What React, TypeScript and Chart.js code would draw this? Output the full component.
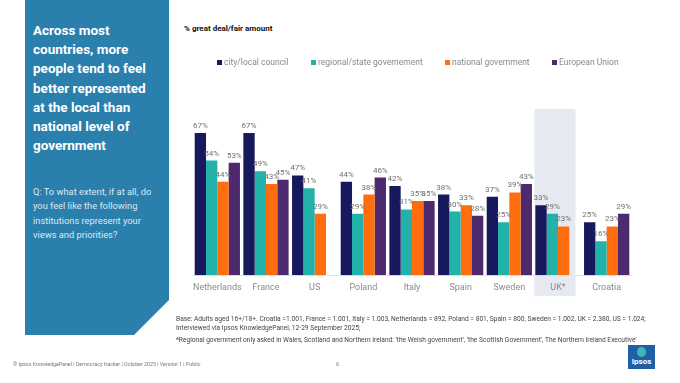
import React, { useEffect, useRef } from "react";
import { Chart, registerables } from "chart.js";

Chart.register(...registerables);

const categories = ["Netherlands", "France", "US", "Poland", "Italy", "Spain", "Sweden", "UK*", "Croatia"];
const cityLocal = [67, 67, 47, 44, 42, 38, 37, 33, 25];
const regional = [54, 49, 41, 29, 31, 30, 25, 29, 16];
const national = [44, 43, 29, 38, 35, 33, 39, 23, 23];
const europeanUnion = [53, 45, null, 46, 35, 28, 43, null, 29];
const seriesNames = ["city/local council", "regional/state governement", "national government", "European Union"];
const seriesColors = ["#16195b", "#22b2aa", "#ff6d0e", "#4d2a6d"];
const highlightIndex = 7;

const FONT = "Roboto, 'Noto Sans', sans-serif";

const highlightPlugin = {
  id: "highlight",
  beforeDraw(chart: any) {
    const { ctx, chartArea, scales } = chart;
    const c = scales.x.getPixelForValue(highlightIndex);
    ctx.save();
    ctx.fillStyle = "#e6e9ef";
    ctx.fillRect(c - 23.5, chartArea.top + 46, 41, chartArea.bottom - chartArea.top - 46 + 21);
    ctx.restore();
  },
};

const valueLabelPlugin = {
  id: "valueLabels",
  afterDatasetsDraw(chart: any) {
    const { ctx } = chart;
    ctx.save();
    ctx.font = `8px ${FONT}`;
    ctx.fillStyle = "#707070";
    ctx.textAlign = "center";
    ctx.textBaseline = "bottom";
    chart.data.datasets.forEach((ds: any, di: number) => {
      const meta = chart.getDatasetMeta(di);
      meta.data.forEach((el: any, i: number) => {
        const v = ds.data[i];
        if (v === null || v === undefined) return;
        ctx.fillText(`${v}%`, el.x, el.y - 3);
      });
    });
    ctx.restore();
  },
};

function BarChart() {
  const ref = useRef<HTMLCanvasElement | null>(null);
  useEffect(() => {
    if (!ref.current) return;
    const data = [cityLocal, regional, national, europeanUnion];
    const chart = new Chart(ref.current, {
      type: "bar",
      data: {
        labels: categories,
        datasets: data.map((d, i) => ({
          label: seriesNames[i],
          data: d,
          backgroundColor: seriesColors[i],
          categoryPercentage: 0.93,
          barPercentage: 1.0,
        })),
      },
      options: {
        responsive: false,
        animation: false,
        layout: { padding: { left: 193, right: 49, top: 63, bottom: 83 } },
        plugins: { legend: { display: false }, tooltip: { enabled: false } },
        scales: {
          x: {
            grid: { display: false, drawTicks: false },
            border: { display: true, color: "#e4e4e4" },
            ticks: { font: { family: FONT, size: 9 }, color: "#8a8a8a", padding: 7, maxRotation: 0, minRotation: 0, autoSkip: false },
          },
          y: { display: false, min: 0, max: 100 },
        },
      } as any,
      plugins: [highlightPlugin, valueLabelPlugin],
    });
    return () => chart.destroy();
  }, []);
  return <canvas ref={ref} width={680} height={383} style={{ position: "absolute", left: 0, top: 0, width: 680, height: 383 }} />;
}

export default function App() {
  const titleLines = ["Across most", "countries, more", "people tend to feel", "better represented", "at the local than", "national level of", "government"];
  const qLines = ["Q: To what extent, if at all, do", "you feel like the following", "institutions represent your", "views and priorities?"];
  return (
    <div style={{ position: "fixed", left: 0, top: 0, width: 680, height: 383, background: "#fff", overflow: "hidden", fontFamily: FONT }}>
      <svg width={680} height={383} style={{ position: "absolute", left: 0, top: 0 }}>
        <polygon points="25,0 169,0 169,300 134,335 25,335" fill="#2a7fad" />
      </svg>
      <div style={{ position: "absolute", left: 33, top: 21, color: "#fff", fontWeight: 700, fontSize: 13.5, lineHeight: "19.2px" }}>
        {titleLines.map((l, i) => <div key={i} style={{ whiteSpace: "nowrap" }}>{l}</div>)}
      </div>
      <div style={{ position: "absolute", left: 33, top: 185, color: "#dbe8f1", fontSize: 9.3, lineHeight: "14.3px" }}>
        {qLines.map((l, i) => <div key={i} style={{ whiteSpace: "nowrap" }}>{l}</div>)}
      </div>
      <div style={{ position: "absolute", left: 184, top: 24, color: "#111", fontWeight: 700, fontSize: 8, whiteSpace: "nowrap" }}>% great deal/fair amount</div>
      <BarChart />
      {seriesNames.map((n, i) => {
        const xs = [217, 311, 445, 552];
        return (
          <div key={n} style={{ position: "absolute", left: xs[i], top: 56, display: "flex", alignItems: "center", whiteSpace: "nowrap", fontSize: 8.5, color: "#8a8a8a", lineHeight: "12px" }}>
            <span style={{ display: "inline-block", width: 5, height: 5, background: seriesColors[i], marginRight: 2 }} />
            {n}
          </div>
        );
      })}
      <div style={{ position: "absolute", left: 176, top: 315, color: "#444", fontSize: 6.65, lineHeight: "8.5px", whiteSpace: "nowrap" }}>
        <div>Base: Adults aged 16+/18+. Croatia =1.001, France = 1.001, Italy = 1.003, Netherlands = 892, Poland = 801, Spain = 800, Sweden = 1.002, UK = 2.380, US = 1.024;</div>
        <div>Interviewed via Ipsos KnowledgePanel, 12-29 September 2025;</div>
        <div style={{ marginTop: 4 }}>*Regional government only asked in Wales, Scotland and Northern Ireland: 'the Welsh government', 'the Scottish Government', The Northern Ireland Executive'</div>
      </div>
      <div style={{ position: "absolute", left: 13, top: 361, color: "#777", fontSize: 5.3, whiteSpace: "nowrap" }}>
        © Ipsos KnowledgePanel | Democracy tracker | October 2025 | Version 1 | Public
      </div>
      <div style={{ position: "absolute", left: 336, top: 361, color: "#777", fontSize: 5.5 }}>6</div>
      <div style={{ position: "absolute", left: 628, top: 345, width: 27, height: 24, background: "#1e5fa6", overflow: "hidden" }}>
        <div style={{ position: "absolute", left: 9, top: 2, width: 9, height: 10, borderRadius: "50%", background: "#41b6b0" }} />
        <div style={{ position: "absolute", left: 0, width: 27, top: 12, textAlign: "center", color: "#fff", fontWeight: 700, fontSize: 8, lineHeight: "10px" }}>Ipsos</div>
      </div>
    </div>
  );
}
